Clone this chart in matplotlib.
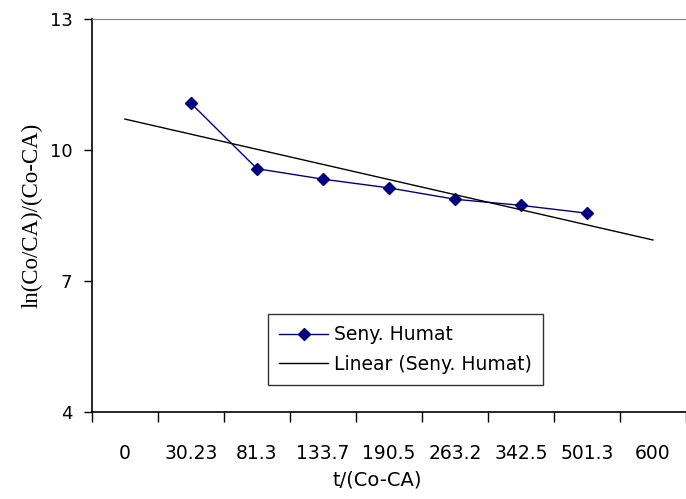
import numpy as np
import matplotlib.pyplot as plt

# categories on the x axis (Excel-style category axis)
categories = ["0", "30.23", "81.3", "133.7", "190.5", "263.2", "342.5", "501.3", "600"]
# measured series, present for categories 30.23 .. 501.3
series_name = "Seny. Humat"
series_values = [11.08, 9.58, 9.34, 9.14, 8.88, 8.74, 8.56]
series_first = 1  # index of first category that has a value

fig = plt.figure(figsize=(6.86, 4.99), dpi=100)
ax = fig.add_axes([0.134, 0.174, 0.866, 0.787])

x_pos = np.arange(series_first, series_first + len(series_values))
ax.plot(x_pos, series_values, color="#000080", linewidth=1, marker="D",
        markersize=6, markerfacecolor="#000080", markeredgecolor="#000080",
        label=series_name)

# linear trendline fitted on the series, drawn over the whole category range
slope, intercept = np.polyfit(x_pos, series_values, 1)
x_trend = np.array([0, len(categories) - 1])
ax.plot(x_trend, slope * x_trend + intercept, color="black", linewidth=1,
        label="Linear (" + series_name + ")")

ax.set_xlim(-0.5, 8.33)
ax.set_ylim(4, 13)
ax.set_yticks([4, 7, 10, 13])
ax.tick_params(axis="y", labelsize=13, length=6, width=1, pad=8)

ax.set_xticks(np.arange(len(categories)))
ax.set_xticklabels(categories)
ax.set_xticks(np.arange(len(categories) + 1) - 0.5, minor=True)
ax.tick_params(axis="x", which="major", length=0, labelsize=13.5, pad=23)
ax.tick_params(axis="x", which="minor", length=7, width=1, direction="out")

ax.spines["right"].set_visible(False)
ax.spines["top"].set_color("#808080")
ax.spines["left"].set_linewidth(1.2)
ax.spines["bottom"].set_linewidth(1.2)

ax.set_ylabel("ln(Co/CA)/(Co-CA)", family="Liberation Serif", fontsize=16.5)
ax.yaxis.set_label_coords(-0.083, 0.5)
fig.text(0.55, 0.038, "t/(Co-CA)", ha="center", va="center", fontsize=14)

leg = ax.legend(loc="upper left", bbox_to_anchor=(268 / 686, 1 - 314 / 499),
                bbox_transform=fig.transFigure, fontsize=13.5, frameon=True,
                fancybox=False, edgecolor="black", borderpad=0.6,
                handlelength=2.6, handletextpad=0.3, labelspacing=0.55,
                borderaxespad=0)
leg.get_frame().set_linewidth(1)

fig.savefig("out.png", dpi=100)
